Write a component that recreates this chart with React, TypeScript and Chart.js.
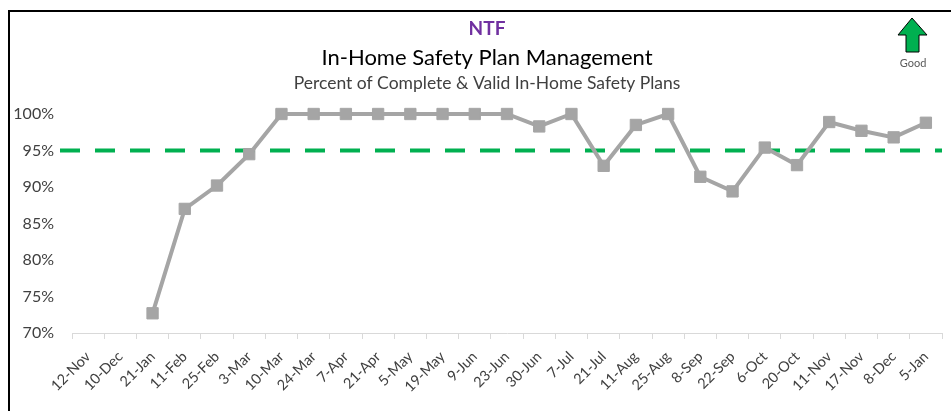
import React, { useEffect, useRef } from "react";
import { Chart, registerables } from "chart.js";

Chart.register(...registerables);

const categories = [
  "12-Nov", "10-Dec", "21-Jan", "11-Feb", "25-Feb", "3-Mar", "10-Mar", "24-Mar", "7-Apr",
  "21-Apr", "5-May", "19-May", "9-Jun", "23-Jun", "30-Jun", "7-Jul", "21-Jul", "11-Aug",
  "25-Aug", "8-Sep", "22-Sep", "6-Oct", "20-Oct", "11-Nov", "17-Nov", "8-Dec", "5-Jan",
];
const percentValues: (number | null)[] = [
  null, null, 72.7, 87.0, 90.2, 94.5, 100, 100, 100,
  100, 100, 100, 100, 100, 98.3, 100, 92.9, 98.5,
  100, 91.4, 89.4, 95.4, 93.0, 98.9, 97.7, 96.8, 98.8,
];
const targetValue = 95;
const yTicks = [70, 75, 80, 85, 90, 95, 100];
const titleTop = "NTF";
const titleMain = "In-Home Safety Plan Management";
const titleSub = "Percent of Complete & Valid In-Home Safety Plans";
const goodLabel = "Good";

const FONT = "Lato, 'Noto Sans', sans-serif";

const decorPlugin = {
  id: "decor",
  beforeDatasetsDraw(chart: any) {
    const ctx = chart.ctx;
    const y = chart.scales.y.getPixelForValue(targetValue);
    ctx.save();
    ctx.strokeStyle = "#00B050";
    ctx.lineWidth = 4;
    ctx.setLineDash([20, 15]);
    ctx.beginPath();
    ctx.moveTo(chart.chartArea.left - 12, y);
    ctx.lineTo(chart.chartArea.right, y);
    ctx.stroke();
    ctx.restore();
  },
  afterDraw(chart: any) {
    const ctx = chart.ctx;
    ctx.save();
    ctx.textAlign = "center";
    ctx.textBaseline = "alphabetic";
    ctx.fillStyle = "#7030A0";
    ctx.font = `bold 19px ${FONT}`;
    ctx.fillText(titleTop, 477, 23);
    ctx.fillStyle = "#000000";
    ctx.font = `22px ${FONT}`;
    ctx.fillText(titleMain, 477, 53);
    ctx.fillStyle = "#404040";
    ctx.font = `17.5px ${FONT}`;
    ctx.fillText(titleSub, 477, 77);

    // Good arrow
    ctx.beginPath();
    ctx.moveTo(902, 6);
    ctx.lineTo(917, 23);
    ctx.lineTo(909, 23);
    ctx.lineTo(909, 40);
    ctx.lineTo(896, 40);
    ctx.lineTo(896, 23);
    ctx.lineTo(888, 23);
    ctx.closePath();
    ctx.fillStyle = "#00B050";
    ctx.fill();
    ctx.strokeStyle = "#000000";
    ctx.lineWidth = 1;
    ctx.stroke();
    ctx.fillStyle = "#595959";
    ctx.font = `11px ${FONT}`;
    ctx.textBaseline = "middle";
    ctx.fillText(goodLabel, 903, 51);
    ctx.restore();
  },
};

export default function App() {
  const ref = useRef<HTMLCanvasElement>(null);
  useEffect(() => {
    if (!ref.current) return;
    const chart = new Chart(ref.current, {
      type: "line",
      data: {
        labels: categories,
        datasets: [
          {
            data: percentValues,
            borderColor: "#A5A5A5",
            backgroundColor: "#A5A5A5",
            borderWidth: 4,
            pointStyle: "rect",
            pointRadius: 8,
            pointBorderWidth: 1,
            pointBackgroundColor: "#A5A5A5",
            pointBorderColor: "#A5A5A5",
            tension: 0,
            spanGaps: false,
            clip: false,
          },
        ],
      },
      options: {
        animation: false,
        responsive: false,
        layout: { padding: { top: 102, right: 2, left: 0, bottom: 0 } },
        plugins: {
          legend: { display: false },
          tooltip: { enabled: false },
          title: { display: false },
        },
        scales: {
          x: {
            offset: true,
            grid: {
              display: true,
              offset: true,
              drawOnChartArea: false,
              drawTicks: true,
              tickLength: 6,
              color: "#D9D9D9",
            },
            border: { display: true, color: "#D9D9D9", width: 1 },
            ticks: {
              autoSkip: false,
              maxRotation: 45,
              minRotation: 45,
              color: "#404040",
              font: { family: FONT, size: 14.5 },
              padding: 9,
            },
            afterFit(scale: any) {
              scale.height = 78;
            },
          },
          y: {
            min: 70,
            max: 100,
            afterBuildTicks(scale: any) {
              scale.ticks = yTicks.map((v) => ({ value: v }));
            },
            grid: { display: false, drawTicks: false },
            border: { display: false },
            ticks: {
              color: "#404040",
              font: { family: FONT, size: 16 },
              padding: 18,
              callback: (v: any) => `${v}%`,
            },
            afterFit(scale: any) {
              scale.width = 62;
            },
          },
        },
      },
      plugins: [decorPlugin],
    });
    return () => chart.destroy();
  }, []);

  return (
    <div
      style={{
        position: "fixed",
        left: 8,
        top: 10,
        width: 943,
        height: 401,
        boxSizing: "border-box",
        borderLeft: "2px solid #000",
        borderTop: "2px solid #000",
        background: "#fff",
      }}
    >
      <canvas ref={ref} width={941} height={399} style={{ display: "block" }} />
    </div>
  );
}
